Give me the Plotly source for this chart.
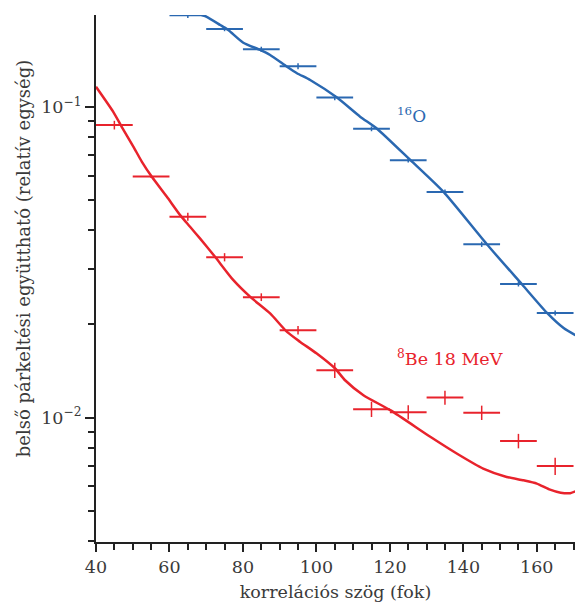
import math
import plotly.graph_objects as go

# Measured angular correlation, 16O (blue) and 8Be 18 MeV (red)
angle_o16 = [65, 75, 85, 95, 105, 115, 125, 135, 145, 155, 165]
coef_o16 = [0.197, 0.178, 0.153, 0.135, 0.107, 0.0849, 0.0673, 0.0532, 0.0361, 0.0269, 0.0217]
err_o16 = [0.004, 0.003, 0.003, 0.003, 0.002, 0.0015, 0.0012, 0.001, 0.0007, 0.0005, 0.0004]

angle_be8 = [45, 55, 65, 75, 85, 95, 105, 115, 125, 135, 145, 155, 165]
coef_be8 = [0.0873, 0.0596, 0.0443, 0.0328, 0.0244, 0.0191, 0.0142, 0.01064, 0.0104,
            0.0116, 0.01037, 0.00841, 0.00698]
err_be8 = [0.0028, 0.0006, 0.0013, 0.001, 0.0007, 0.0006, 0.0008, 0.0006, 0.00055,
           0.0006, 0.00055, 0.00045, 0.00045]

bin_halfwidth = 5

# Theoretical curves
theo_o16_x = [67.9, 70.0, 73.8, 76.0, 80.1, 84.7, 87.4, 92.0, 94.7, 98.3, 105.6, 111.9,
              116.5, 125.6, 134.6, 146.4, 156.0, 162.8, 167.3, 170.5]
theo_o16_y = [0.1988, 0.195, 0.1833, 0.1766, 0.1607, 0.1523, 0.1467, 0.1345, 0.1282, 0.1219,
              0.107, 0.0929, 0.085, 0.0673, 0.0532, 0.0361, 0.0268, 0.0217, 0.0194, 0.0184]

theo_be8_x = [40.0, 44.7, 47.0, 50.2, 52.5, 55.2, 59.3, 62.9, 65.6, 68.3, 72.4, 77.4,
              82.0, 87.4, 92.0, 95.6, 100.1, 105.1, 107.8, 112.8, 120.1, 131.0, 138.2,
              145.4, 151.8, 156.4, 160.0, 163.4, 166.5, 169.1, 170.5]
theo_be8_y = [0.1160, 0.0963, 0.0862, 0.0743, 0.0665, 0.0595, 0.0513, 0.0448, 0.0411,
              0.0377, 0.0329, 0.02767, 0.02444, 0.02162, 0.01886, 0.01751, 0.01607,
              0.01438, 0.01318, 0.0118, 0.01056, 0.00867, 0.00766, 0.00685, 0.00644,
              0.00628, 0.00613, 0.00587, 0.00573, 0.00571, 0.00579]

y_ticks = [0.01, 0.1]
y_ticktext = ["10<sup>−2</sup>", "10<sup>−1</sup>"]
y_minor = [0.004, 0.005, 0.006, 0.007, 0.008, 0.009,
           0.02, 0.03, 0.04, 0.05, 0.06, 0.07, 0.08, 0.09]

BLUE = "#2a68b1"
RED = "#e8232c"
FONT = "DejaVu Serif"
TXT = "#3a3a3a"
AX = "#222222"

fig = go.Figure()

fig.add_trace(go.Scatter(
    x=theo_o16_x, y=theo_o16_y, mode="lines",
    line=dict(color=BLUE, width=2.5, shape="spline", smoothing=0.6),
    showlegend=False, hoverinfo="skip"))
fig.add_trace(go.Scatter(
    x=theo_be8_x, y=theo_be8_y, mode="lines",
    line=dict(color=RED, width=2.5, shape="spline", smoothing=0.6),
    showlegend=False, hoverinfo="skip"))

fig.add_trace(go.Scatter(
    x=angle_o16, y=coef_o16, mode="markers",
    marker=dict(size=0.1, color=BLUE),
    error_x=dict(type="constant", value=bin_halfwidth, color=BLUE, thickness=2, width=0),
    error_y=dict(type="data", array=err_o16, color=BLUE, thickness=1.5, width=0),
    showlegend=False))
fig.add_trace(go.Scatter(
    x=angle_be8, y=coef_be8, mode="markers",
    marker=dict(size=0.1, color=RED),
    error_x=dict(type="constant", value=bin_halfwidth, color=RED, thickness=2, width=0),
    error_y=dict(type="data", array=err_be8, color=RED, thickness=1.5, width=0),
    showlegend=False))

# Curve labels (annotation y on a log axis is given in log10 units)
fig.add_annotation(x=121.3, y=math.log10(0.094), xref="x", yref="y",
                   text="<sup>16</sup>O", showarrow=False,
                   xanchor="left", yanchor="middle",
                   font=dict(family=FONT, size=17, color=BLUE))
fig.add_annotation(x=121.3, y=math.log10(0.0155), xref="x", yref="y",
                   text="<sup>8</sup>Be 18 MeV", showarrow=False,
                   xanchor="left", yanchor="middle",
                   font=dict(family=FONT, size=17.5, color=RED))

fig.add_annotation(x=-0.152, y=0.537, xref="paper", yref="paper",
                   xanchor="center", yanchor="middle",
                   text="belső párkeltési együttható (relatív egység)",
                   textangle=-90, showarrow=False,
                   font=dict(family=FONT, size=18, color=TXT))

fig.update_layout(
    width=575, height=610,
    margin=dict(l=96, r=0, t=15, b=68),
    paper_bgcolor="white", plot_bgcolor="white",
    font=dict(family=FONT, size=17.5, color=TXT),
    xaxis=dict(
        range=[40, 170.4], showgrid=False, zeroline=False,
        showline=True, linecolor=AX, linewidth=2,
        ticks="outside", ticklen=8, tickwidth=1.5, tickcolor=AX,
        tick0=40, dtick=20,
        minor=dict(ticks="outside", ticklen=6, tickwidth=1.5, tickcolor=AX, dtick=5),
        title=dict(text="korrelációs szög (fok)", standoff=10,
                   font=dict(family=FONT, size=17.5, color=TXT)),
        tickfont=dict(family=FONT, size=17.5, color=TXT),
    ),
    yaxis=dict(
        type="log", range=[-2.4005, -0.7048], showgrid=False, zeroline=False,
        showline=True, linecolor=AX, linewidth=2,
        ticks="outside", ticklen=9, tickwidth=1.5, tickcolor=AX,
        tickmode="array", tickvals=y_ticks, ticktext=y_ticktext,
        minor=dict(ticks="outside", ticklen=6, tickwidth=1.5, tickcolor=AX,
                   tickvals=y_minor),
        tickfont=dict(family=FONT, size=17.5, color=TXT),
    ),
)

fig.write_html("out.html")
